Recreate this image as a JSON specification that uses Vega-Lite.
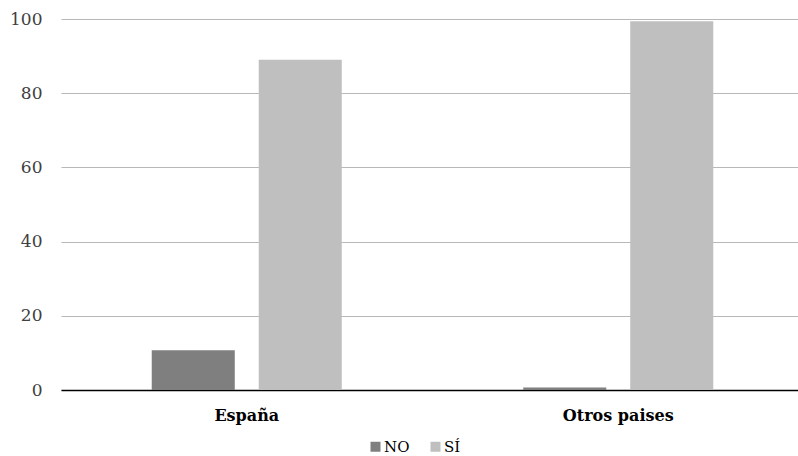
{
  "$schema": "https://vega.github.io/schema/vega-lite/v6.json",
  "width": 738,
  "height": 371,
  "autosize": "none",
  "padding": {"left": 60, "top": 19, "right": 0, "bottom": 66},
  "background": "white",
  "config": {
    "view": {"stroke": null},
    "font": "DejaVu Serif"
  },
  "data": {
    "values": [
      {"pais": "España", "respuesta": "NO", "valor": 10.7},
      {"pais": "España", "respuesta": "SÍ", "valor": 89.0},
      {"pais": "Otros paises", "respuesta": "NO", "valor": 0.7},
      {"pais": "Otros paises", "respuesta": "SÍ", "valor": 99.4}
    ]
  },
  "mark": {"type": "bar"},
  "encoding": {
    "x": {
      "field": "pais",
      "type": "nominal",
      "sort": null,
      "scale": {"range": [1, 744], "paddingInner": 0, "paddingOuter": 0},
      "axis": {
        "title": null,
        "labelAngle": 0,
        "labelFont": "DejaVu Serif",
        "labelFontWeight": "bold",
        "labelFontSize": 16,
        "labelColor": "#000000",
        "labelPadding": 17,
        "ticks": false,
        "domainColor": "#000000",
        "domainWidth": 1.5
      }
    },
    "xOffset": {
      "field": "respuesta",
      "type": "nominal",
      "scale": {"paddingInner": 0.224, "paddingOuter": 0.848}
    },
    "y": {
      "field": "valor",
      "type": "quantitative",
      "scale": {"domain": [0, 100], "nice": false},
      "axis": {
        "title": null,
        "values": [0, 20, 40, 60, 80, 100],
        "domain": false,
        "ticks": false,
        "labelFont": "DejaVu Serif",
        "labelFontSize": 17,
        "labelColor": "#404040",
        "labelPadding": 18,
        "gridColor": "#b8b8b8",
        "gridWidth": 1.2
      }
    },
    "color": {
      "field": "respuesta",
      "type": "nominal",
      "scale": {"domain": ["NO", "SÍ"], "range": ["#7f7f7f", "#bfbfbf"]},
      "legend": {
        "title": null,
        "orient": "none",
        "direction": "horizontal",
        "legendX": 308,
        "legendY": 420,
        "symbolType": "square",
        "symbolSize": 100,
        "symbolStrokeWidth": 0,
        "labelFont": "DejaVu Serif",
        "labelFontSize": 15,
        "labelColor": "#000000",
        "labelOffset": 1,
        "columnPadding": 18
      }
    }
  }
}
